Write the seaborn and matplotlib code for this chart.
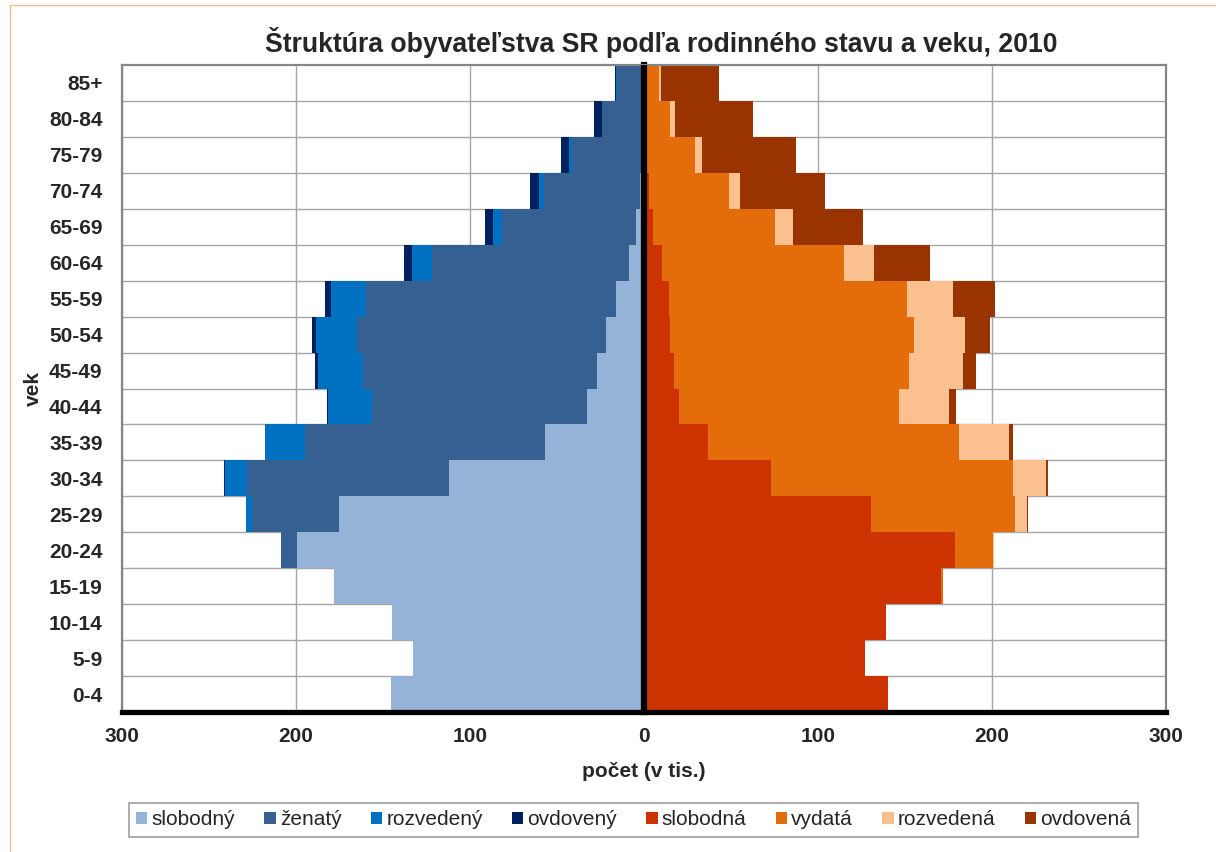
import numpy as np
import pandas as pd
import matplotlib
matplotlib.use('Agg')
from matplotlib import pyplot as plt
from matplotlib.patches import Patch, Rectangle
from matplotlib.ticker import FixedLocator
import seaborn as sb

# age groups, top of the pyramid first
ages = ['85+', '80-84', '75-79', '70-74', '65-69', '60-64', '55-59', '50-54', '45-49',
        '40-44', '35-39', '30-34', '25-29', '20-24', '15-19', '10-14', '5-9', '0-4']

# men (thousands)
m_slobodny = [0.5, 1.0, 1.0, 2.5, 4.5, 8.9, 16.1, 22.1, 27.1, 32.5, 57.1, 111.9, 175.4, 199.4, 178.1, 144.8, 133.0, 145.6]
m_zenaty = [15.1, 22.9, 40.4, 55.2, 76.9, 113.1, 143.6, 142.7, 134.4, 124.0, 137.7, 116.0, 50.1, 9.1, 0.3, 0, 0, 0]
m_rozvedeny = [0.3, 0.3, 1.6, 2.5, 5.1, 11.2, 20.4, 23.6, 25.9, 25.2, 22.8, 13.0, 3.1, 0.2, 0, 0, 0, 0]
m_ovdoveny = [0.8, 4.4, 4.8, 5.5, 4.7, 4.9, 3.5, 2.5, 1.4, 0.5, 0.3, 0.2, 0.1, 0, 0, 0, 0, 0]

# women (thousands)
z_slobodna = [1.0, 1.0, 2.0, 3.0, 5.0, 10.6, 14.2, 15.1, 17.0, 20.3, 36.6, 73.2, 130.4, 179.0, 170.6, 138.9, 127.2, 140.3]
z_vydata = [7.4, 14.0, 27.5, 45.9, 70.1, 104.3, 137.2, 140.3, 135.5, 126.5, 144.7, 138.7, 82.7, 21.7, 1.4, 0, 0, 0]
z_rozvedena = [1.2, 2.7, 4.1, 6.3, 10.3, 17.5, 26.1, 28.9, 31.0, 28.6, 28.6, 19.0, 6.9, 0.3, 0, 0, 0, 0]
z_ovdovena = [33.7, 45.1, 53.7, 48.8, 40.4, 32.2, 24.0, 14.3, 7.3, 4.1, 2.0, 1.0, 0.6, 0, 0, 0, 0, 0]

men_labels = ['slobodný', 'ženatý', 'rozvedený', 'ovdovený']
women_labels = ['slobodná', 'vydatá', 'rozvedená', 'ovdovená']
men_colors = ['#95B3D7', '#366092', '#0070C0', '#002060']
women_colors = ['#CC3300', '#E46C0A', '#FAC090', '#993300']

sb.set_style('white')
plt.rcParams['font.family'] = ['Liberation Sans', 'DejaVu Sans']

men = pd.DataFrame(dict(zip(men_labels, [m_slobodny, m_zenaty, m_rozvedeny, m_ovdoveny])), index=ages)
women = pd.DataFrame(dict(zip(women_labels, [z_slobodna, z_vydata, z_rozvedena, z_ovdovena])), index=ages)
men_cum = -men.cumsum(axis=1)
women_cum = women.cumsum(axis=1)

fig = plt.figure(figsize=(12.16, 8.52), dpi=100)
ax = fig.add_axes([0.1003, 0.1643, 0.8586, 0.7594])

# outermost segment first, inner ones painted over it
for cum, labels, colors in [(men_cum, men_labels, men_colors), (women_cum, women_labels, women_colors)]:
    for lab, col in reversed(list(zip(labels, colors))):
        sb.barplot(x=cum[lab].values, y=ages, order=ages, orient='h', color=col,
                   saturation=1, width=1.0, linewidth=0, edgecolor='none', ax=ax)

ax.set_xlim(-300, 300)
ax.set_ylim(len(ages) - 0.5, -0.5)
ax.set_xticks(np.arange(-300, 301, 100))
ax.set_xticklabels([str(abs(v)) for v in range(-300, 301, 100)])
ax.yaxis.set_minor_locator(FixedLocator(np.arange(0.5, len(ages) - 0.5, 1)))
ax.set_axisbelow(True)
ax.grid(True, axis='x', which='major', color='#A6A6A6', linewidth=1)
ax.grid(True, axis='y', which='minor', color='#A6A6A6', linewidth=1)
ax.grid(False, axis='y', which='major')

for s in ['top', 'right', 'left']:
    ax.spines[s].set_color('#868686')
    ax.spines[s].set_linewidth(1.6)
ax.spines['bottom'].set_color('black')
ax.spines['bottom'].set_linewidth(3.8)

ax.tick_params(axis='y', which='both', length=0, pad=14, labelsize=15)
ax.tick_params(axis='x', which='major', length=3, width=2.5, color='black', direction='out',
               pad=8, labelsize=15)
for t in ax.get_xticklabels() + ax.get_yticklabels():
    t.set_fontweight('bold')

ax.set_xlabel('počet (v tis.)', fontsize=15, fontweight='bold', labelpad=11)
ax.set_ylabel('vek', fontsize=15, fontweight='bold', labelpad=4)

# thick zero axis with small ticks between age groups
ax.axvline(0, color='black', linewidth=4.5, zorder=5)
zero_ax = ax.secondary_yaxis(0.5)
zero_ax.set_yticks(np.arange(-0.5, len(ages), 1))
zero_ax.set_yticklabels([])
for sp in zero_ax.spines.values():
    sp.set_linewidth(4.5)
    sp.set_color('black')
zero_ax.tick_params(length=2.5, width=2.5, color='black', direction='out')

fig.text(0.5436, 0.9507, 'Štruktúra obyvateľstva SR podľa rodinného stavu a veku, 2010',
         ha='center', va='center', fontsize=19.2, fontweight='bold')

handles = [Patch(facecolor=c, edgecolor='none', label=l)
           for l, c in zip(men_labels + women_labels, men_colors + women_colors)]
leg = fig.legend(handles=handles, loc='center', bbox_to_anchor=(0.521, 0.0376), ncol=8,
                 fontsize=15, frameon=True, fancybox=False, handlelength=0.55, handleheight=0.55,
                 handletextpad=0.2, columnspacing=1.4, borderpad=0.35, borderaxespad=0)
leg.get_frame().set_edgecolor('#868686')
leg.get_frame().set_linewidth(1.2)

fig.patches.append(Rectangle((10 / 1216, -0.1), 1.2, 1.1 - 5 / 852, transform=fig.transFigure,
                             fill=False, edgecolor='#F9B98A', linewidth=1))

fig.savefig('out.png', dpi=100)
